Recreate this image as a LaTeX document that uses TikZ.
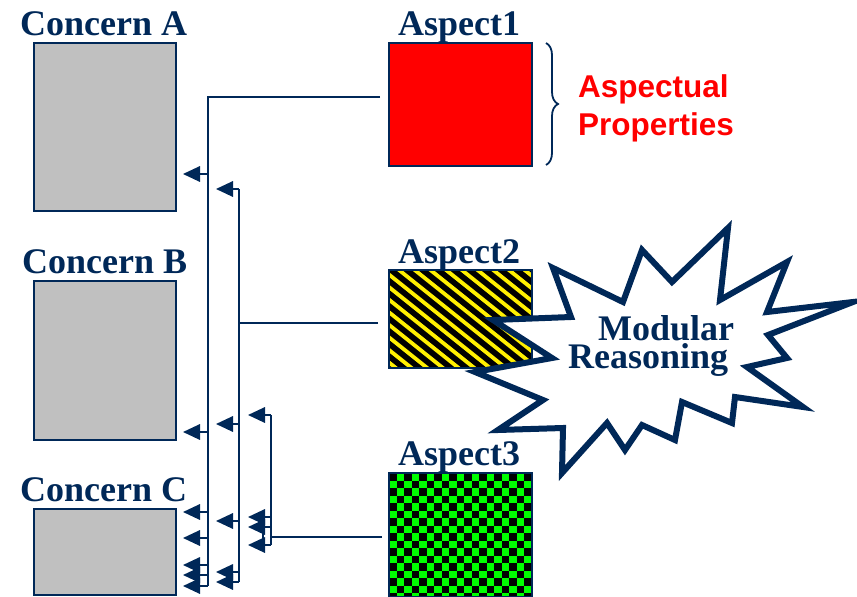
\documentclass[tikz,border=0pt]{standalone}
\usepackage{fontspec}
\setmainfont{Liberation Serif}
\newfontfamily\lsans{Liberation Sans}
\usetikzlibrary{arrows.meta,decorations.pathreplacing}
\definecolor{navy}{RGB}{0,40,88}
\definecolor{greyfill}{RGB}{192,192,192}
\definecolor{brightgreen}{RGB}{0,255,0}
\definecolor{stripeyellow}{RGB}{255,240,0}
\begin{document}
\begin{tikzpicture}[x=1pt,y=-1pt,
  conn/.style={draw=navy,line width=1.8pt},
  arr/.style={conn,-{Triangle[length=17pt,width=15.5pt]}},
  lbl/.style={font=\fontsize{36}{36}\selectfont\bfseries,text=navy,anchor=base west,inner sep=0pt},
  redlbl/.style={font=\lsans\fontsize{31.5}{31.5}\selectfont\bfseries,text=red,anchor=base west,inner sep=0pt},
  boxshape/.style={draw=navy,line width=1.5pt,anchor=north west,inner sep=0pt,outer sep=0pt},
  concernbox/.style={boxshape,fill=greyfill,minimum width=142pt},
  aspectbox/.style={boxshape,minimum width=143pt}
]
\useasboundingbox (0,0) rectangle (857,597);

% ---- labels
\node[lbl] (la) at (20,35) {Concern A};
\node[lbl] (lb) at (22,273) {Concern B};
\node[lbl] (lc) at (20,501) {Concern C};
\node[lbl] (l1) at (398,35) {Aspect1};
\node[lbl] (l2) at (398,263) {Aspect2};
\node[lbl] (l3) at (398,465) {Aspect3};

% ---- concern boxes
\node[concernbox,minimum height=168pt] (ca) at (34,43) {};
\node[concernbox,minimum height=159pt] (cb) at (34,281) {};
\node[concernbox,minimum height=86pt] (cc) at (34,509) {};

% ---- aspect 1 (red)
\node[aspectbox,fill=red,minimum height=123pt] (a1) at (389,43) {};

% ---- aspect 2 (stripes)
\begin{scope}
  \clip (389,270) rectangle (532,368);
  \fill[black] (389,270) rectangle (532,368);
  \foreach \i in {-9,...,10}
    \draw[stripeyellow,line width=3.8pt] (389+\i*15.7,262) -- ++(150,120);
\end{scope}
\node[aspectbox,minimum height=98pt] (a2) at (389,270) {};

% ---- aspect 3 (checker)
\begin{scope}
  \clip (389,473) rectangle (532,597);
  \fill[brightgreen] (389,473) rectangle (532,597);
  \foreach \r [evaluate=\r as \off using {mod(\r,2)*7.5}] in {0,...,16}
    \foreach \c in {0,...,9}
      \fill[black] (389+\c*15+\off,473+\r*7.5) rectangle ++(7.5,7.5);
\end{scope}
\node[aspectbox,minimum height=124pt] (a3) at (389,473) {};

% ---- brace and aspectual properties
\coordinate (bt) at (546,43);
\coordinate (bb) at (546,165);
\draw[navy,line width=1.8pt,decorate,decoration={brace,amplitude=12pt}] (bt) -- (bb);
\node[redlbl] (ap1) at (578,97) {Aspectual};
\node[redlbl] (ap2) at (578,135) {Properties};

% ---- connector system 1 (Aspect1)
\coordinate (e1) at (380,97);
\coordinate (k1) at (208,97);
\coordinate (b1) at (208,586);
\draw[conn] (e1) -- (k1) -- (b1);
\foreach \y in {174,432,512,538,565,575,586}
  \draw[arr] (208,\y) -- (183,\y);
\coordinate (s1t) at (199,565);
\coordinate (s1b) at (199,586);
\draw[conn] (s1t) -- (s1b);

% ---- connector system 2 (Aspect2)
\coordinate (e2) at (378,323);
\coordinate (k2) at (239,323);
\coordinate (t2) at (239,189);
\coordinate (b2) at (239,582);
\draw[conn] (e2) -- (k2);
\draw[conn] (t2) -- (b2);
\foreach \y in {189,424,521,572,582}
  \draw[arr] (239,\y) -- (216,\y);
\coordinate (s2t) at (230,572);
\coordinate (s2b) at (230,582);
\draw[conn] (s2t) -- (s2b);

% ---- connector system 3 (Aspect3)
\coordinate (e3) at (382,537);
\coordinate (k3) at (271,537);
\coordinate (t3) at (271,415);
\coordinate (b3) at (271,545);
\draw[conn] (e3) -- (k3);
\draw[conn] (t3) -- (b3);
\foreach \y in {415,517,527,545}
  \draw[arr] (271,\y) -- (248,\y);
\coordinate (s3t) at (263,517);
\coordinate (s3b) at (263,545);
\draw[conn] (s3t) -- (s3b);

% ---- starburst
\draw[navy,fill=white,line width=6pt,line join=miter,miter limit=12]
  (493,320) -- (571,317) -- (553,268) -- (623,302) -- (642,250) -- (672,282)
  -- (728,228) -- (720,300) -- (787,262) -- (767,312) -- (853,302) -- (768,335)
  -- (787,358) -- (747,367) -- (803,407) -- (735,397) -- (732,423) -- (682,402)
  -- (675,440) -- (642,425) -- (625,450) -- (607,423) -- (562,473) -- (563,428)
  -- (498,430) -- (543,400) -- (475,372) -- (552,358) -- cycle;
\node[lbl,align=left,font=\fontsize{36}{28}\selectfont\bfseries] (mr) at (568,368)
  {\hspace*{30pt}Modular\\Reasoning};
\end{tikzpicture}
\end{document}
